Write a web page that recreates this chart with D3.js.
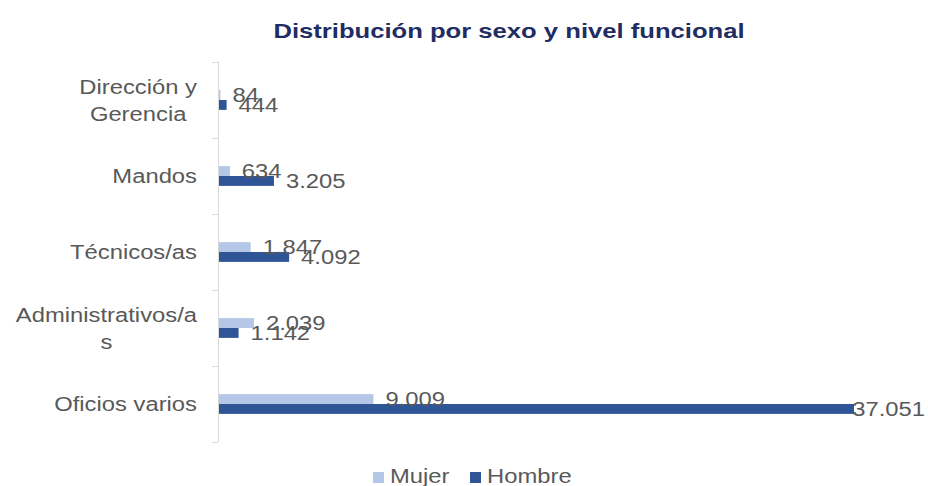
<!DOCTYPE html>
<html>
<head>
<meta charset="utf-8">
<script src="https://cdn.jsdelivr.net/npm/d3@7"></script>
<style>
  body { margin: 0; background: #fff; }
  text { font-family: "Liberation Sans", Arial, sans-serif; }
</style>
</head>
<body>
<svg id="chart"></svg>
<script>
// Data
const categories = ["Dirección y\nGerencia", "Mandos", "Técnicos/as", "Administrativos/a\ns", "Oficios varios"];
const series = ["Mujer", "Hombre"];
const mujer = [84, 634, 1847, 2039, 9009];
const hombre = [444, 3205, 4092, 1142, 37051];
const labels = {
  Mujer: ["84", "634", "1.847", "2.039", "9.009"],
  Hombre: ["444", "3.205", "4.092", "1.142", "37.051"]
};

const colors = { Mujer: "#b4c7e7", Hombre: "#2f5597" };
const textColor = "#595959";
const stretch = 1.22; // reference text is horizontally widened

const width = 928, height = 486;
const margin = { top: 62, right: 75, bottom: 44, left: 218 };

const svg = d3.select("#chart").attr("width", width).attr("height", height);

// widen a text node horizontally
function widen(sel, factor) {
  sel.each(function () {
    const len = this.getComputedTextLength();
    d3.select(this).attr("textLength", len * factor).attr("lengthAdjust", "spacingAndGlyphs");
  });
  return sel;
}

// Scales
const rows = categories.map((c, i) => ({ cat: c, Mujer: mujer[i], Hombre: hombre[i], i }));

const x = d3.scaleLinear()
  .domain([0, d3.max(hombre)])
  .range([margin.left, 853]);

const y = d3.scaleBand()
  .domain(categories)
  .range([margin.top, height - margin.bottom])
  .paddingInner(0.74)
  .paddingOuter(0.37);

const ySub = d3.scaleBand().domain(series).range([0, y.bandwidth()]);

// Title
widen(svg.append("text")
  .attr("x", 509)
  .attr("y", 38)
  .attr("text-anchor", "middle")
  .attr("font-size", 21)
  .attr("font-weight", "bold")
  .attr("fill", "#1f2d62")
  .text("Distribución por sexo y nivel funcional"), 1.22);

// Axis (category)
const step = y.step();
const boundaries = d3.range(categories.length + 1).map(k => margin.top + k * step);
const axis = svg.append("g").attr("stroke", "#d9d9d9").attr("stroke-width", 1);
axis.append("line")
  .attr("x1", margin.left + 0.5).attr("x2", margin.left + 0.5)
  .attr("y1", boundaries[0]).attr("y2", boundaries[boundaries.length - 1]);
axis.selectAll(".tick")
  .data(boundaries)
  .join("line")
  .attr("x1", margin.left - 6).attr("x2", margin.left)
  .attr("y1", d => Math.round(d) + 0.5).attr("y2", d => Math.round(d) + 0.5);

// Category labels
const catG = svg.append("g");
rows.forEach(r => {
  const lines = r.cat.split("\n");
  const cy = y(r.cat) + y.bandwidth() / 2;
  const lh = 27;
  const t = catG.append("g");
  const texts = t.selectAll("text")
    .data(lines)
    .join("text")
    .attr("font-size", 19.5)
    .attr("fill", textColor)
    .attr("text-anchor", "middle")
    .attr("y", (d, k) => cy + (k - (lines.length - 1) / 2) * lh)
    .attr("dy", "0.36em")
    .text(d => d);
  widen(texts, stretch);
  const maxW = d3.max(texts.nodes(), n => +n.getAttribute("textLength"));
  texts.attr("x", 197 - maxW / 2);
});

// Bars
const groups = svg.selectAll(".grp")
  .data(rows)
  .join("g")
  .attr("class", "grp")
  .attr("transform", d => `translate(0, ${y(d.cat)})`);

groups.selectAll("rect")
  .data(d => series.map(s => ({ s, v: d[s], lab: labels[s][d.i] })))
  .join("rect")
  .attr("x", x(0) + 1)
  .attr("y", d => ySub(d.s))
  .attr("width", d => x(d.v) - x(0))
  .attr("height", ySub.bandwidth())
  .attr("fill", d => colors[d.s]);

// Value labels
groups.selectAll(".val")
  .data(d => series.map(s => ({ s, v: d[s], lab: labels[s][d.i] })))
  .join("text")
  .attr("class", "val")
  .attr("font-size", 19.5)
  .attr("fill", textColor)
  .attr("y", d => ySub(d.s) + ySub.bandwidth() / 2)
  .attr("dy", "0.36em")
  .text(d => d.lab)
  .call(widen, stretch)
  .attr("x", function (d) {
    const w = +this.getAttribute("textLength");
    return Math.min(x(d.v) + 13, width - 3 - w);
  });

// Legend
const legend = svg.append("g");
const legendX = [373, 470];
series.forEach((s, k) => {
  legend.append("rect")
    .attr("x", legendX[k]).attr("y", 472)
    .attr("width", 11).attr("height", 11)
    .attr("fill", colors[s]);
  widen(legend.append("text")
    .attr("x", legendX[k] + 17)
    .attr("y", 483)
    .attr("font-size", 19.5)
    .attr("fill", textColor)
    .text(s), stretch);
});
</script>
</body>
</html>
